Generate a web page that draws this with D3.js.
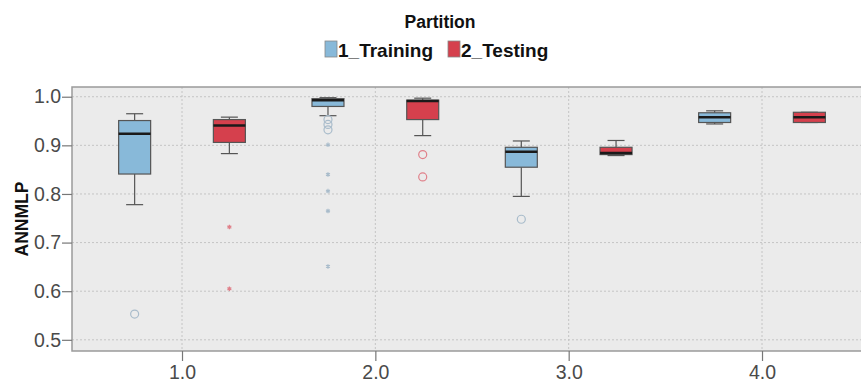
<!DOCTYPE html>
<html>
<head>
<meta charset="utf-8">
<script src="https://cdn.jsdelivr.net/npm/d3@7"></script>
<style>
  body { margin: 0; background: #fff; }
  svg { display: block; font-family: "Liberation Sans", Arial, sans-serif; }
</style>
</head>
<body>
<svg id="chart" width="861" height="383"></svg>
<script>
(function() {
  'use strict';

  // data
  const groups = [1, 2, 3, 4];
  const partitions = ['1_Training', '2_Testing'];
  const yTicks = [0.5, 0.6, 0.7, 0.8, 0.9, 1.0];
  const xTicks = [1, 2, 3, 4];

  // training boxes
  const trainLow  = [0.778, 0.961, 0.795, 0.944];
  const trainQ1   = [0.841, 0.980, 0.855, 0.947];
  const trainMed  = [0.924, 0.993, 0.887, 0.958];
  const trainQ3   = [0.951, 0.996, 0.896, 0.967];
  const trainHigh = [0.965, 0.998, 0.909, 0.971];
  const trainOutliers = [[0.553], [0.953, 0.943, 0.932], [0.748], []];
  const trainExtremes = [[], [0.901, 0.840, 0.806, 0.765, 0.651], [], []];

  // testing boxes
  const testLow  = [0.883, 0.920, 0.879, 0.947];
  const testQ1   = [0.906, 0.953, 0.881, 0.947];
  const testMed  = [0.941, 0.991, 0.884, 0.958];
  const testQ3   = [0.953, 0.993, 0.896, 0.968];
  const testHigh = [0.958, 0.997, 0.910, 0.968];
  const testOutliers = [[], [0.881, 0.835], [], []];
  const testExtremes = [[0.732, 0.605], [], [], []];

  const colors = { '1_Training': '#88b9d9', '2_Testing': '#d5404d' };
  const markColors = { '1_Training': '#a9bccb', '2_Testing': '#e0808a' };

  const svg = d3.select('#chart');
  const left = 72, right = 861, top = 87, bottom = 351;

  const x = d3.scaleLinear().domain([0.431, 4.512]).range([left, right]);
  const y = d3.scaleLinear().domain([0.477, 1.02]).range([bottom, top]);
  const offset = { '1_Training': -0.245, '2_Testing': 0.245 };
  const boxW = 32, capW = 17;

  const boxes = [];
  groups.forEach((g, i) => {
    boxes.push({ p: '1_Training', g, lo: trainLow[i], q1: trainQ1[i], med: trainMed[i], q3: trainQ3[i], hi: trainHigh[i],
      out: trainOutliers[i], ext: trainExtremes[i] });
    boxes.push({ p: '2_Testing', g, lo: testLow[i], q1: testQ1[i], med: testMed[i], q3: testQ3[i], hi: testHigh[i],
      out: testOutliers[i], ext: testExtremes[i] });
  });

  // plot background
  svg.append('rect')
    .attr('x', left).attr('y', top)
    .attr('width', right - left).attr('height', bottom - top)
    .attr('fill', '#ebebeb');

  // grid
  const grid = svg.append('g').attr('stroke', '#c4c4c4').attr('stroke-dasharray', '2,2').attr('stroke-width', 1);
  grid.selectAll('.hg').data(yTicks).enter().append('line')
    .attr('x1', left).attr('x2', right)
    .attr('y1', d => y(d)).attr('y2', d => y(d));
  grid.selectAll('.vg').data(xTicks).enter().append('line')
    .attr('x1', d => x(d)).attr('x2', d => x(d))
    .attr('y1', top).attr('y2', bottom);

  // frame
  svg.append('rect')
    .attr('x', left).attr('y', top)
    .attr('width', right - left + 2).attr('height', bottom - top)
    .attr('fill', 'none').attr('stroke', '#9a9a9a').attr('stroke-width', 1.5);

  // axes
  const yAxis = svg.append('g')
    .attr('transform', `translate(${left},0)`)
    .call(d3.axisLeft(y).tickValues(yTicks).tickFormat(d3.format('.1f')).tickSize(10).tickPadding(1));
  const xAxis = svg.append('g')
    .attr('transform', `translate(0,${bottom})`)
    .call(d3.axisBottom(x).tickValues(xTicks).tickFormat(d3.format('.1f')).tickSize(10).tickPadding(4));
  [yAxis, xAxis].forEach(a => {
    a.select('.domain').remove();
    a.selectAll('line').attr('stroke', '#777').attr('stroke-width', 1.2);
    a.selectAll('text').attr('fill', '#4a4a4a').style('font-size', '19.5px');
  });

  // boxes
  const bg = svg.append('g');
  boxes.forEach(b => {
    const cx = x(b.g + offset[b.p]);
    const g = bg.append('g');
    g.append('line').attr('x1', cx).attr('x2', cx).attr('y1', y(b.hi)).attr('y2', y(b.q3))
      .attr('stroke', '#555').attr('stroke-width', 1.2);
    g.append('line').attr('x1', cx).attr('x2', cx).attr('y1', y(b.q1)).attr('y2', y(b.lo))
      .attr('stroke', '#555').attr('stroke-width', 1.2);
    [b.hi, b.lo].forEach(v => {
      g.append('line').attr('x1', cx - capW / 2).attr('x2', cx + capW / 2)
        .attr('y1', y(v)).attr('y2', y(v))
        .attr('stroke', '#555').attr('stroke-width', 1.2);
    });
    g.append('rect')
      .attr('x', cx - boxW / 2).attr('y', y(b.q3))
      .attr('width', boxW).attr('height', Math.max(1, y(b.q1) - y(b.q3)))
      .attr('fill', colors[b.p]).attr('stroke', '#555').attr('stroke-width', 1.2);
    g.append('line').attr('x1', cx - boxW / 2).attr('x2', cx + boxW / 2)
      .attr('y1', y(b.med)).attr('y2', y(b.med))
      .attr('stroke', '#1a1a1a').attr('stroke-width', 2.5);

    g.selectAll('.out').data(b.out).enter().append('circle')
      .attr('cx', cx).attr('cy', d => y(d)).attr('r', 4)
      .attr('fill', 'none').attr('stroke', markColors[b.p]).attr('stroke-width', 1.2);
    g.selectAll('.ext').data(b.ext).enter().append('path')
      .attr('transform', d => `translate(${cx},${y(d)})`)
      .attr('d', d3.symbol().type(d3.symbolAsterisk).size(14))
      .attr('fill', 'none').attr('stroke', markColors[b.p]).attr('stroke-width', 1.2);
  });

  // y title
  svg.append('text')
    .attr('transform', `translate(28,${(top + bottom) / 2}) rotate(-90)`)
    .attr('text-anchor', 'middle')
    .style('font-size', '17.5px').style('font-weight', 'bold').attr('fill', '#111')
    .text('ANNMLP');

  // legend
  svg.append('text')
    .attr('x', 440).attr('y', 28)
    .attr('text-anchor', 'middle')
    .style('font-size', '17.5px').style('font-weight', 'bold').attr('fill', '#111')
    .text('Partition');

  const legendX = [325, 448];
  const leg = svg.append('g').selectAll('g').data(partitions).enter().append('g')
    .attr('transform', (d, i) => `translate(${legendX[i]},41)`);
  leg.append('rect').attr('width', 12).attr('height', 16)
    .attr('fill', d => colors[d]).attr('stroke', '#888').attr('stroke-width', 0.8);
  leg.append('text').attr('x', 13).attr('y', 15.5)
    .style('font-size', '19px').style('font-weight', 'bold').attr('fill', '#111')
    .text(d => d);
})();
</script>
</body>
</html>
